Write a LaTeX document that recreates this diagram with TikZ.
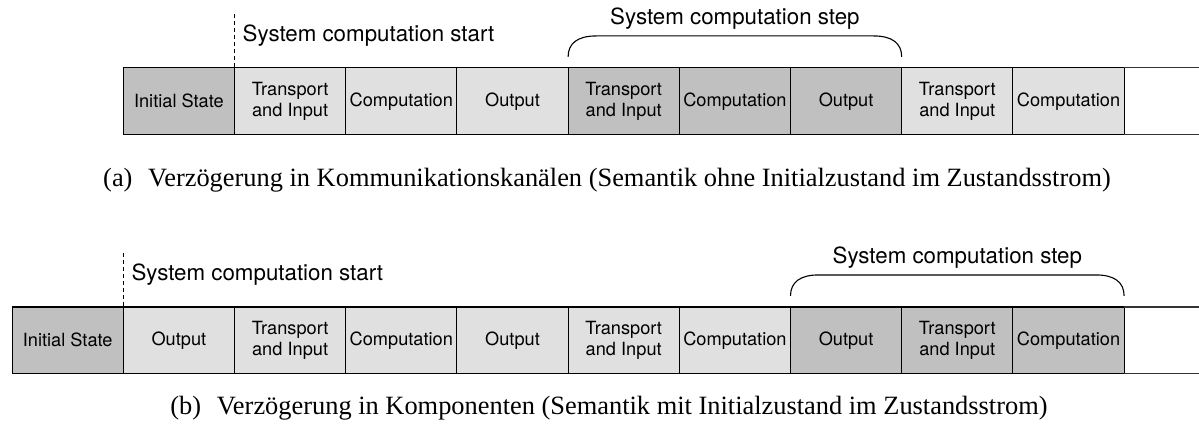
\documentclass[tikz,border=0pt]{standalone}
\usepackage{fontspec}
\usetikzlibrary{calc}
\setmainfont{Liberation Serif}
\newfontfamily\helv{TeX Gyre Heros}
\definecolor{celllight}{RGB}{224,224,224}
\definecolor{celldark}{RGB}{192,192,192}
\begin{document}
\begin{tikzpicture}[x=1pt,y=-1pt,
  cell/.style={draw=black, line width=1.1pt, minimum width=111.2pt, minimum height=66.5pt,
    inner sep=0pt, outer sep=0pt, anchor=west, align=center,
    font=\helv\fontsize{18.2}{20.5}\selectfont},
  lightcell/.style={cell, fill=celllight},
  darkcell/.style={cell, fill=celldark},
  lbl/.style={font=\helv\fontsize{22.3}{26}\selectfont, inner sep=0pt},
  captext/.style={font=\fontsize{26.4}{30}\selectfont, inner sep=0pt},
  startline/.style={line width=0.9pt, dash pattern=on 4pt off 3pt},
  stepbrace/.style={line width=1.1pt},
  rail/.style={line width=1.1pt, draw=black!80}]
\useasboundingbox (0,0) rectangle (1199,425);

% ---- (a) delay in communication channels ----
\begin{scope}
\node[darkcell]  (a1) at (123.3,101.2) {Initial State};
\node[lightcell] (a2) at (a1.east) {Transport\\and Input};
\node[lightcell] (a3) at (a2.east) {Computation};
\node[lightcell] (a4) at (a3.east) {Output};
\node[darkcell]  (a5) at (a4.east) {Transport\\and Input};
\node[darkcell]  (a6) at (a5.east) {Computation};
\node[darkcell]  (a7) at (a6.east) {Output};
\node[lightcell] (a8) at (a7.east) {Transport\\and Input};
\node[lightcell] (a9) at (a8.east) {Computation};
\coordinate (aTopEnd) at (1199,67.95);
\coordinate (aBotEnd) at (1199,134.45);
\draw[rail] (a9.north east) -- (aTopEnd);
\draw[rail] (a9.south east) -- (aBotEnd);

\coordinate (aStartTop) at ($(a2.north west)+(0,-54)$);
\draw[startline] (aStartTop) -- (a2.north west);
\node[lbl, anchor=west] (aStart) at ($(a2.north west)+(8,-32)$) {System computation start};

\coordinate (aBl) at ($(a5.north west)+(0,-11)$);
\coordinate (aBr) at ($(a7.north east)+(0,-11)$);
\draw[stepbrace] (aBl) .. controls ($(aBl)+(0,-14)$) and ($(aBl)+(10,-21)$) .. ($(aBl)+(28,-21)$)
  -- ($(aBr)+(-28,-21)$) .. controls ($(aBr)+(-10,-21)$) and ($(aBr)+(0,-14)$) .. (aBr);
\node[lbl] (aStep) at ($(a6.north)+(0,-49)$) {System computation step};

\node[captext] (capA) at (607,180) {(a)\hspace{9pt} Verzögerung in Kommunikationskanälen (Semantik ohne Initialzustand im Zustandsstrom)};
\end{scope}

% ---- (b) delay in components ----
\begin{scope}
\node[darkcell]  (b1) at (12.1,340.2) {Initial State};
\node[lightcell] (b2) at (b1.east) {Output};
\node[lightcell] (b3) at (b2.east) {Transport\\and Input};
\node[lightcell] (b4) at (b3.east) {Computation};
\node[lightcell] (b5) at (b4.east) {Output};
\node[lightcell] (b6) at (b5.east) {Transport\\and Input};
\node[lightcell] (b7) at (b6.east) {Computation};
\node[darkcell]  (b8) at (b7.east) {Output};
\node[darkcell]  (b9) at (b8.east) {Transport\\and Input};
\node[darkcell]  (b10) at (b9.east) {Computation};
\coordinate (bTopEnd) at (1199,306.95);
\coordinate (bBotEnd) at (1199,373.45);
\draw[rail] (b10.north east) -- (bTopEnd);
\draw[rail] (b10.south east) -- (bBotEnd);

\coordinate (bStartTop) at ($(b2.north west)+(0,-54)$);
\draw[startline] (bStartTop) -- (b2.north west);
\node[lbl, anchor=west] (bStart) at ($(b2.north west)+(8,-32)$) {System computation start};

\coordinate (bBl) at ($(b8.north west)+(0,-11)$);
\coordinate (bBr) at ($(b10.north east)+(0,-11)$);
\draw[stepbrace] (bBl) .. controls ($(bBl)+(0,-14)$) and ($(bBl)+(10,-21)$) .. ($(bBl)+(28,-21)$)
  -- ($(bBr)+(-28,-21)$) .. controls ($(bBr)+(-10,-21)$) and ($(bBr)+(0,-14)$) .. (bBr);
\node[lbl] (bStep) at ($(b9.north)+(0,-49)$) {System computation step};

\node[captext] (capB) at (609,408) {(b)\hspace{9pt} Verzögerung in Komponenten (Semantik mit Initialzustand im Zustandsstrom)};
\end{scope}
\end{tikzpicture}
\end{document}
